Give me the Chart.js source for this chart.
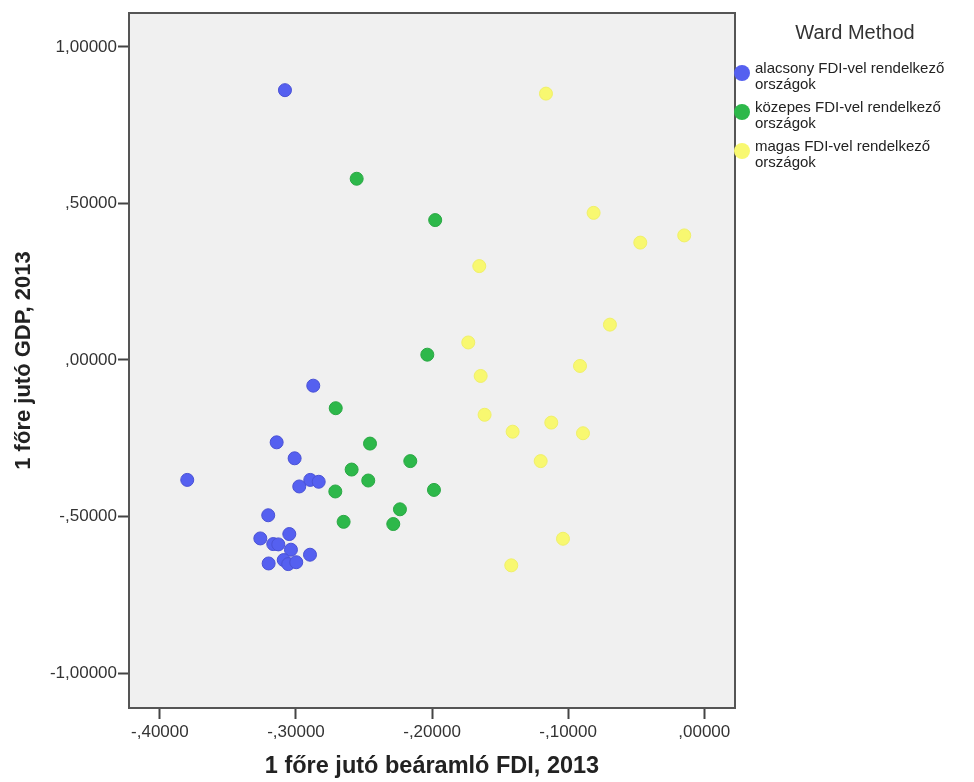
<!DOCTYPE html>
<html lang="hu">
<head>
<meta charset="UTF-8">
<title>Ward Method</title>
<script src="https://cdn.jsdelivr.net/npm/chart.js"></script>
<style>
  body { margin: 0; background: #fff; font-family: 'Liberation Sans', Arial, sans-serif; }
  .wrap { position: relative; width: 974px; height: 782px; }
  #chart { position: absolute; left: 0; top: 0; }
  .legend { position: absolute; left: 734px; top: 0; width: 240px; color: #222; }
  .legend-title { position: absolute; left: 0; width: 242px; top: 21px; text-align: center; font-size: 20px; color: #333; }
  .item { position: absolute; left: 21px; font-size: 15px; line-height: 15.5px; }
  .dot { position: absolute; left: -21px; width: 16px; height: 16px; border-radius: 50%; top: 5px; }
</style>
</head>
<body>
<div class="wrap">
  <canvas id="chart" width="974" height="782"></canvas>
  <div class="legend">
    <div class="legend-title">Ward Method</div>
    <div class="item" style="top:60px"><span class="dot" style="background:#5560f0"></span>alacsony FDI-vel rendelkező<br>országok</div>
    <div class="item" style="top:99px"><span class="dot" style="background:#2db84a"></span>közepes FDI-vel rendelkező<br>országok</div>
    <div class="item" style="top:138px"><span class="dot" style="background:#f8f870"></span>magas FDI-vel rendelkező<br>országok</div>
  </div>
</div>
<script>
// cluster 1: alacsony FDI
const lowX = [-0.3081, -0.2873, -0.3142, -0.3010, -0.3799, -0.2895, -0.2833, -0.2976, -0.3204, -0.3049,
              -0.3262, -0.3167, -0.3130, -0.3037, -0.2897, -0.3201, -0.3090, -0.3057, -0.2998];
const lowY = [0.862, -0.082, -0.263, -0.314, -0.383, -0.383, -0.389, -0.404, -0.496, -0.556,
              -0.570, -0.588, -0.589, -0.606, -0.622, -0.650, -0.639, -0.652, -0.646];
// cluster 2: közepes FDI
const midX = [-0.2708, -0.2456, -0.2160, -0.2591, -0.2469, -0.1986, -0.2711, -0.2236, -0.2285, -0.2650,
              -0.2554, -0.1977, -0.2035];
const midY = [-0.154, -0.267, -0.323, -0.350, -0.385, -0.415, -0.420, -0.477, -0.524, -0.517,
              0.579, 0.447, 0.017];
// cluster 3: magas FDI
const highX = [-0.1163, -0.0813, -0.0470, -0.0147, -0.1653, -0.0693, -0.1734, -0.0913, -0.1643, -0.1614,
               -0.1408, -0.1124, -0.0891, -0.1202, -0.1038, -0.1418];
const highY = [0.851, 0.470, 0.375, 0.398, 0.300, 0.113, 0.056, -0.019, -0.051, -0.175,
               -0.229, -0.200, -0.234, -0.323, -0.571, -0.656];

const xTicks = [-0.4, -0.3, -0.2, -0.1, 0];
const yTicks = [-1, -0.5, 0, 0.5, 1];

const seriesNames = ['alacsony FDI-vel rendelkező országok', 'közepes FDI-vel rendelkező országok', 'magas FDI-vel rendelkező országok'];

function pts(xs, ys) {
  return xs.map((x, i) => ({ x: x, y: ys[i] }));
}

// SPSS style: 5 decimals, comma, no leading zero
function fmt(v) {
  let s = Math.abs(v).toFixed(5).replace('.', ',');
  if (s.startsWith('0,')) s = s.slice(1);
  return (v < 0 ? '-' : '') + s;
}

const plotBg = {
  id: 'plotBg',
  beforeDatasetsDraw(chart) {
    const { ctx, chartArea: a } = chart;
    ctx.save();
    ctx.fillStyle = '#f0f0f0';
    ctx.fillRect(a.left, a.top, a.right - a.left, a.bottom - a.top);
    ctx.restore();
  },
  afterDraw(chart) {
    const { ctx, chartArea: a } = chart;
    ctx.save();
    ctx.strokeStyle = '#555';
    ctx.lineWidth = 2;
    ctx.strokeRect(a.left, a.top, a.right - a.left, a.bottom - a.top);
    ctx.restore();
  }
};

const fam = "'Liberation Sans', Arial, sans-serif";
const tickFont = { family: fam, size: 17 };

new Chart(document.getElementById('chart'), {
  type: 'scatter',
  data: {
    datasets: [
      { label: seriesNames[0], data: pts(lowX, lowY), backgroundColor: '#5560f0', borderColor: '#4a52d6', borderWidth: 1, pointRadius: 6.5 },
      { label: seriesNames[1], data: pts(midX, midY), backgroundColor: '#2db84a', borderColor: '#2aa844', borderWidth: 1, pointRadius: 6.5 },
      { label: seriesNames[2], data: pts(highX, highY), backgroundColor: '#f8f870', borderColor: '#f0f068', borderWidth: 1, pointRadius: 6.5 }
    ]
  },
  options: {
    responsive: false,
    animation: false,
    layout: { padding: { left: 0, right: 239, top: 13, bottom: 0 } },
    plugins: {
      legend: { display: false },
      tooltip: { enabled: false }
    },
    scales: {
      x: {
        type: 'linear',
        min: -0.4227,
        max: 0.0226,
        afterBuildTicks(scale) { scale.ticks = xTicks.map(v => ({ value: v })); },
        afterFit(scale) { scale.height = 74; },
        grid: { drawOnChartArea: false, tickLength: 11, tickColor: '#444', tickWidth: 2 },
        border: { display: false },
        ticks: { font: tickFont, color: '#333', padding: 3, maxRotation: 0, callback: v => fmt(v) },
        title: { display: true, text: '1 főre jutó beáramló FDI, 2013', font: { family: fam, size: 23.5, weight: 'bold' }, color: '#222', padding: { top: 0, bottom: 1 } }
      },
      y: {
        type: 'linear',
        min: -1.1117,
        max: 1.1085,
        afterBuildTicks(scale) { scale.ticks = yTicks.map(v => ({ value: v })); },
        afterFit(scale) { scale.width = 129; },
        grid: { drawOnChartArea: false, tickLength: 11, tickColor: '#444', tickWidth: 2 },
        border: { display: false },
        ticks: { font: tickFont, color: '#333', padding: 1, callback: v => fmt(v) },
        title: { display: true, text: '1 főre jutó GDP, 2013', font: { family: fam, size: 22, weight: 'bold' }, color: '#222', padding: { top: 11, bottom: 0 } }
      }
    }
  },
  plugins: [plotBg]
});
</script>
</body>
</html>
